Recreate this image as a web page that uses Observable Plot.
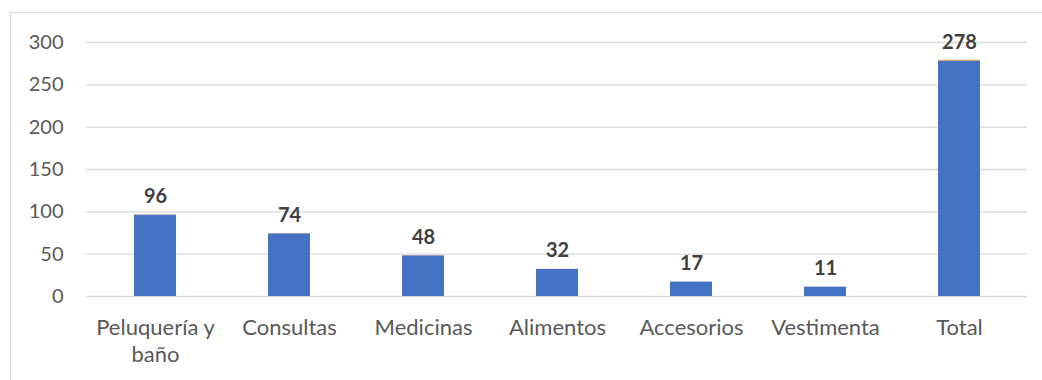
<!DOCTYPE html>
<html>
<head>
<meta charset="utf-8">
<script src="https://cdn.jsdelivr.net/npm/d3@7"></script>
<script src="https://cdn.jsdelivr.net/npm/@observablehq/plot@0.6"></script>
<style>
  html, body { margin: 0; padding: 0; background: #ffffff; }
  #wrap { position: relative; width: 1042px; height: 380px; overflow: hidden; }
  #frame {
    position: absolute; left: 10px; top: 12px; right: -2px; bottom: -2px;
    border-left: 1px solid #d9d9d9; border-top: 1px solid #d9d9d9;
  }
  #chart { position: absolute; left: 0; top: 0; }
</style>
</head>
<body>
<div id="wrap"><div id="frame"></div><div id="chart"></div></div>
<script>
// Servicios y cantidades
const categorias = ["Peluquería y baño", "Consultas", "Medicinas", "Alimentos", "Accesorios", "Vestimenta", "Total"];
const cantidad = [96, 74, 48, 32, 17, 11, 278];
const porcentaje = [0.35, 0.27, 0.17, 0.12, 0.06, 0.04, 1.00];
const series = ["Cantidad", "Porcentaje"];
const yTicks = [0, 50, 100, 150, 200, 250, 300];

// Tabla larga para las barras apiladas
const filas = categorias.flatMap((c, i) => [
  {categoria: c, serie: series[0], valor: cantidad[i]},
  {categoria: c, serie: series[1], valor: porcentaje[i]}
]);
const etiquetas = categorias.map((c, i) => ({categoria: c, valor: cantidad[i]}));

const font = "Lato, 'Open Sans', sans-serif";

const chart = Plot.plot({
  width: 1042,
  height: 380,
  marginLeft: 86,
  marginRight: 15,
  marginTop: 42,
  marginBottom: 84,
  style: {fontFamily: font, background: "transparent", overflow: "visible"},
  x: {domain: categorias, paddingInner: 0.69, paddingOuter: 0.345, label: null},
  y: {domain: [0, 300], label: null},
  color: {domain: series, range: ["#4472c4", "#ed7d31"]},
  marks: [
    Plot.gridY(yTicks, {stroke: "#d9d9d9", strokeOpacity: 1, strokeWidth: 1.3}),
    Plot.axisY(yTicks, {tickSize: 0, tickPadding: 23, fontSize: 20, fill: "#595959", label: null}),
    Plot.axisX({tickSize: 0, tickPadding: 19, fontSize: 22, fill: "#595959", lineWidth: 6.5, lineHeight: 1.23, label: null}),
    Plot.barY(filas, {x: "categoria", y: "valor", fill: "serie", order: series}),
    Plot.text(etiquetas, {
      x: "categoria", y: "valor", text: d => String(d.valor),
      lineAnchor: "bottom", dy: -12, fontSize: 20, fontWeight: "bold", fill: "#404040"
    })
  ]
});
document.getElementById("chart").appendChild(chart);
</script>
</body>
</html>
